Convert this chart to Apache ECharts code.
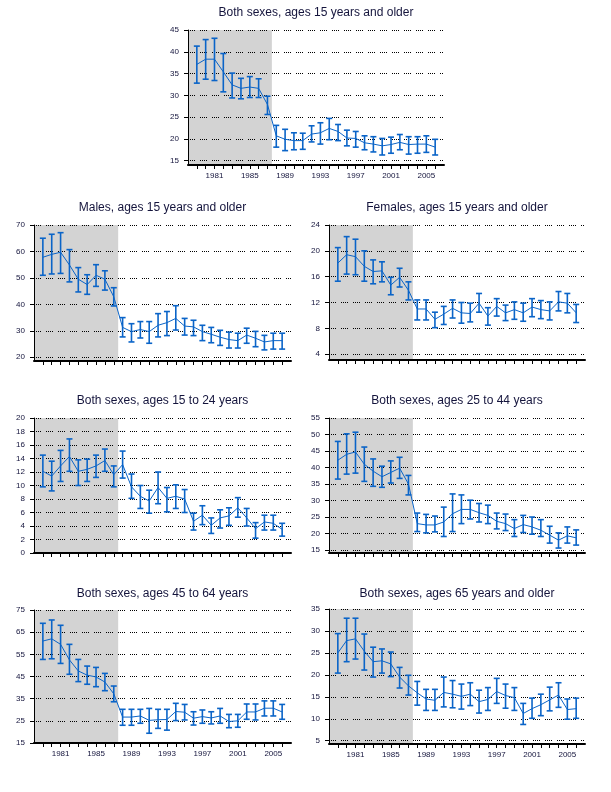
<!DOCTYPE html>
<html><head><meta charset="utf-8">
<script src="https://cdn.jsdelivr.net/npm/echarts@6/dist/echarts.min.js"></script>
<style>html,body{margin:0;padding:0;background:#fff}#c{width:611px;height:792px}</style>
</head><body><div id="c"></div>
<script>
const years = [1979,1980,1981,1982,1983,1984,1985,1986,1987,1988,1989,1990,1991,1992,1993,1994,1995,1996,1997,1998,1999,2000,2001,2002,2003,2004,2005,2006];
const xLabelYears = [1981,1985,1989,1993,1997,2001,2005];
const shadeStart = 1978, shadeEnd = 1987.5;

const titles = ["Both sexes, ages 15 years and older","Males, ages 15 years and older","Females, ages 15 years and older","Both sexes, ages 15 to 24 years","Both sexes, ages 25 to 44 years","Both sexes, ages 45 to 64 years","Both sexes, ages 65 years and older"];

const allVal = [37.1,38.3,38.3,35.4,32.4,31.6,31.9,31.6,27.9,20.7,19.9,19.6,19.6,21.1,21.4,22.4,21.7,20.2,20.1,19.1,18.8,18.4,18.7,19.2,18.7,18.8,18.8,18.1];
const allHi  = [41.3,42.8,43.1,39.6,35.1,33.9,34.3,33.8,29.8,23.1,22.2,21.4,21.3,23.0,23.7,24.7,23.3,22.0,21.7,20.7,20.5,20.1,20.4,21.0,20.5,20.5,20.7,19.9];
const allLo  = [32.8,33.7,33.4,30.8,29.4,29.2,29.5,29.5,25.6,18.1,17.3,17.5,17.6,19.3,18.8,19.8,19.6,18.4,18.1,17.5,17.0,16.3,16.7,17.5,16.5,16.7,16.9,16.3];
const allTicks = [15,20,25,30,35,40,45];

const maleVal = [57.8,58.9,59.7,54.9,49.5,47.5,51.0,49.5,42.9,31.3,29.7,30.5,29.7,32.1,33.1,34.7,31.8,31.5,29.7,28.7,27.6,26.7,26.3,28.4,27.2,25.8,26.3,26.3];
const maleHi  = [65.0,66.5,67.1,60.7,53.9,51.2,55.0,52.7,46.3,35.0,32.7,33.5,33.5,36.5,37.3,39.5,34.7,34.0,32.1,31.3,30.2,29.5,29.1,31.0,29.8,28.3,29.1,29.1];
const maleLo  = [51.0,51.5,51.7,48.5,44.7,43.8,46.8,45.4,39.4,27.7,25.8,27.3,25.3,27.7,28.2,30.3,28.4,28.2,26.3,25.5,24.5,23.5,23.5,25.3,24.0,22.8,23.1,23.1];
const maleTicks = [20,30,40,50,60,70];

const femVal = [18.1,19.4,19.1,17.6,16.8,16.9,14.7,15.9,13.9,11.0,11.0,9.4,10.2,11.1,10.4,10.3,11.9,9.9,11.4,10.4,10.9,10.4,11.3,10.9,10.7,12.1,11.9,10.4];
const femHi  = [20.5,22.2,21.8,20.0,18.6,18.3,15.9,17.3,15.2,12.4,12.4,10.5,11.4,12.4,12.0,11.9,13.4,11.2,12.6,11.6,12.1,11.9,12.6,12.3,12.1,13.7,13.4,11.7];
const femLo  = [15.3,16.4,16.3,15.3,14.9,15.2,13.2,14.4,12.4,9.3,9.3,8.1,8.6,9.6,8.8,9.0,10.5,8.5,9.9,9.2,9.4,9.1,9.8,9.5,9.3,10.7,10.4,8.9];
const femTicks = [4,8,12,16,20,24];

const a1524Val = [12.1,11.4,12.9,14.3,12.1,12.4,12.9,13.7,11.6,13.1,9.8,8.4,7.7,9.7,8.1,8.4,8.0,4.7,5.6,4.1,5.2,5.5,6.7,5.2,3.6,4.6,4.4,3.5];
const a1524Hi  = [14.5,13.6,15.2,16.9,13.8,13.9,14.5,15.4,12.9,15.1,11.7,10.0,9.3,12.0,9.7,10.1,9.4,5.9,7.0,5.2,6.4,6.7,8.2,6.6,4.5,5.6,5.6,4.4];
const a1524Lo  = [9.8,9.2,10.6,12.1,10.0,10.6,11.2,12.1,9.8,11.1,8.1,6.6,5.9,7.3,6.1,6.6,6.0,3.4,4.2,2.9,3.7,4.1,5.3,4.0,2.2,3.4,3.4,2.5];
const a1524Ticks = [0,2,4,6,8,10,12,14,16,18,20];

const a2544Val = [42.2,44.0,44.7,41.0,38.9,37.2,38.5,39.8,35.0,23.0,22.6,22.6,23.5,26.0,27.3,27.3,26.3,25.5,23.7,23.0,21.5,22.7,22.0,21.0,19.5,18.0,19.3,18.7];
const a2544Hi  = [47.9,50.2,50.7,46.2,42.6,40.4,42.0,43.1,37.6,26.2,25.8,25.3,28.0,32.0,31.7,30.1,29.1,28.6,26.2,25.9,24.2,25.5,25.0,24.2,22.2,20.2,22.0,21.1];
const a2544Lo  = [36.5,38.0,38.3,35.8,34.3,34.0,35.3,36.7,31.7,20.6,20.2,20.5,19.1,20.6,23.0,24.4,23.5,23.0,21.4,20.9,19.1,20.3,19.8,19.1,17.1,15.6,17.1,16.5];
const a2544Ticks = [15,20,25,30,35,40,45,50,55];

const a4564Val = [61.0,62.0,59.5,52.5,47.5,45.6,44.8,42.5,37.2,26.7,26.7,27.2,25.2,25.5,25.6,29.2,28.9,26.2,26.9,26.3,27.2,24.7,25.0,29.0,29.0,30.7,30.7,29.0];
const a4564Hi  = [69.0,70.5,68.1,59.5,52.7,49.7,49.1,46.4,40.7,30.2,30.2,30.2,30.6,30.2,30.2,32.9,32.4,29.1,29.9,29.1,30.6,27.9,27.9,32.6,32.6,34.0,34.0,32.4];
const a4564Lo  = [52.7,53.0,50.9,46.0,42.7,41.5,40.4,38.6,33.6,23.0,23.0,23.9,19.4,21.6,20.8,25.1,25.4,23.1,23.9,23.6,23.9,21.9,22.1,25.7,25.4,27.2,27.2,25.7];
const a4564Ticks = [15,25,35,45,55,65,75];

const a65Val = [25.0,27.8,28.2,25.4,23.0,23.2,22.5,19.5,17.5,15.9,14.5,14.2,16.0,15.6,15.1,15.6,13.9,14.4,16.2,15.3,14.8,11.2,12.3,13.2,14.3,15.4,12.1,12.3];
const a65Hi  = [29.4,32.9,32.9,29.3,26.3,25.9,25.2,21.7,19.9,18.5,16.7,16.7,19.5,18.7,17.9,18.2,16.5,17.1,19.2,17.9,17.1,13.5,14.7,15.6,17.2,18.2,14.5,14.7];
const a65Lo  = [20.4,23.0,23.6,21.1,19.5,20.4,19.6,17.0,15.4,13.1,11.9,11.9,12.7,12.5,12.2,13.0,11.3,11.9,13.5,12.4,11.9,8.7,10.1,10.7,11.8,12.6,9.9,10.1];
const a65Ticks = [5,10,15,20,25,30,35];

// layout (positions / axis extents)
const layout = [
  {val:allVal, hi:allHi, lo:allLo, ticks:allTicks, yMin:14, left:188, top:30, width:256, height:135, titleY:13, xLabels:true},
  {val:maleVal, hi:maleHi, lo:maleLo, ticks:maleTicks, yMin:18.6, left:34, top:225, width:257, height:136, titleY:208, xLabels:false},
  {val:femVal, hi:femHi, lo:femLo, ticks:femTicks, yMin:3.1, left:329, top:225, width:256, height:135, titleY:208, xLabels:false},
  {val:a1524Val, hi:a1524Hi, lo:a1524Lo, ticks:a1524Ticks, yMin:0, left:34, top:418, width:257, height:135, titleY:401, xLabels:false},
  {val:a2544Val, hi:a2544Hi, lo:a2544Lo, ticks:a2544Ticks, yMin:14.1, left:329, top:418, width:256, height:135, titleY:401, xLabels:false},
  {val:a4564Val, hi:a4564Hi, lo:a4564Lo, ticks:a4564Ticks, yMin:15, left:34, top:610, width:257, height:133, titleY:594, xLabels:true},
  {val:a65Val, hi:a65Hi, lo:a65Lo, ticks:a65Ticks, yMin:4.25, left:329, top:609, width:256, height:135, titleY:594, xLabels:true}
];

const BLUE = '#0A64C8';
const TXT = '#14143c';
const FONT = 'Liberation Sans, Arial, sans-serif';

const grid = [], xAxis = [], yAxis = [], series = [], graphic = [];
layout.forEach((p, i) => {
  grid.push({left:p.left, top:p.top, width:p.width, height:p.height, containLabel:false});
  xAxis.push({
    type:'value', gridIndex:i, min:1978, max:2007,
    axisLine:{show:true, onZero:false, lineStyle:{color:'#000', width:2}},
    axisTick:{show:true, length:4, lineStyle:{color:'#000', width:1}, customValues: years},
    axisLabel:{show:p.xLabels, customValues: xLabelYears, margin:7, fontSize:8, fontFamily:FONT, color:TXT, formatter: v => String(v)},
    splitLine:{show:false}
  });
  yAxis.push({
    type:'value', gridIndex:i, min:p.yMin, max:p.ticks[p.ticks.length-1],
    axisLine:{show:true, onZero:false, lineStyle:{color:'#000', width:1}},
    axisTick:{show:true, length:4, lineStyle:{color:'#000'}, customValues: p.ticks},
    axisLabel:{show:true, customValues: p.ticks, margin:9, fontSize:8, fontFamily:FONT, color:TXT},
    splitLine:{show:true, lineStyle:{color:'#000', width:1, type:[1,1,1,1,1,1,1,5]}}
  });
  series.push({
    type:'custom', xAxisIndex:i, yAxisIndex:i, z:-1, silent:true,
    data:[[shadeStart, shadeEnd]],
    renderItem:(params, api) => {
      const cs = params.coordSys;
      const x1 = api.coord([api.value(0), p.yMin])[0];
      const x2 = api.coord([api.value(1), p.yMin])[0];
      return {type:'rect', shape:{x:x1, y:cs.y, width:x2-x1, height:cs.height}, style:{fill:'#D3D3D3'}};
    }
  });
  series.push({
    type:'custom', xAxisIndex:i, yAxisIndex:i, z:3, silent:true,
    data: years.map((y, k) => [y, p.lo[k], p.hi[k]]),
    renderItem:(params, api) => {
      const lo = api.coord([api.value(0), api.value(1)]);
      const hi = api.coord([api.value(0), api.value(2)]);
      const w = 3;
      const st = {stroke:BLUE, lineWidth:1.6};
      return {type:'group', children:[
        {type:'line', shape:{x1:hi[0], y1:hi[1], x2:lo[0], y2:lo[1]}, style:st},
        {type:'line', shape:{x1:hi[0]-w, y1:hi[1], x2:hi[0]+w, y2:hi[1]}, style:st},
        {type:'line', shape:{x1:lo[0]-w, y1:lo[1], x2:lo[0]+w, y2:lo[1]}, style:st}
      ]};
    }
  });
  series.push({
    type:'line', xAxisIndex:i, yAxisIndex:i, z:4, silent:true,
    data: years.map((y, k) => [y, p.val[k]]),
    showSymbol:false, symbol:'none',
    lineStyle:{color:BLUE, width:1}
  });
  graphic.push({
    type:'text', x: p.left + p.width/2, y: p.titleY,
    style:{text: titles[i], textAlign:'center', textVerticalAlign:'middle', font:'12px ' + FONT, fill:TXT}
  });
});

const chart = echarts.init(document.getElementById('c'), null, {renderer:'canvas'});
chart.setOption({animation:false, grid, xAxis, yAxis, series, graphic});
</script>
</body></html>
